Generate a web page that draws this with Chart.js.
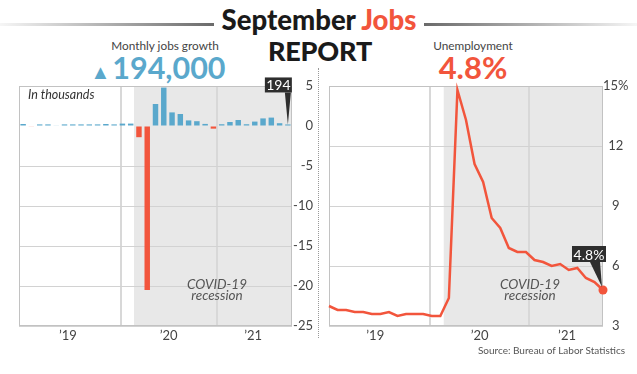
<!DOCTYPE html>
<html><head><meta charset="utf-8">
<script src="https://cdn.jsdelivr.net/npm/chart.js@4/dist/chart.umd.min.js"></script>
<style>
html,body{margin:0;padding:0;background:#fff;}
body{width:637px;height:374px;position:relative;overflow:hidden;font-family:Lato,"Open Sans",sans-serif;}
.t{position:absolute;white-space:nowrap;line-height:1;}
.c{transform:translateX(-50%);}
.rule{position:absolute;top:23px;height:3px;}
canvas{position:absolute;top:0;}
</style></head><body>
<div class="rule" style="left:0;width:214px;background:linear-gradient(to right,#f6f6f6,#6a6a6a)"></div>
<div class="rule" style="left:424px;width:213px;background:linear-gradient(to right,#6a6a6a,#f6f6f6)"></div>
<div class="t c" style="left:319px;top:6px;font-size:27.5px;font-weight:900;color:#1a1a1a">September <span style="color:#f2553c">Jobs</span></div>
<div class="t c" style="left:320px;top:37px;font-size:27px;font-weight:900;letter-spacing:-0.2px;color:#1a1a1a">REPORT</div>
<div class="t c" style="left:165px;top:40px;font-size:11.8px;color:#444">Monthly jobs growth</div>
<div class="t c" style="left:158px;top:52px;font-size:30.5px;font-weight:700;color:#5aa8cc"><span style="font-size:20px;margin-right:2px">▲</span>194,000</div>
<div class="t c" style="left:473px;top:40px;font-size:11.8px;color:#444">Unemployment</div>
<div class="t c" style="left:473px;top:52px;font-size:31px;font-weight:700;color:#f2553c">4.8%</div>
<div style="position:absolute;left:318px;top:68px;height:270px;border-left:1px dotted #999"></div>
<canvas id="jobs" width="320" height="374" style="left:0"></canvas>
<canvas id="unemp" width="317" height="374" style="left:320px"></canvas>
<div class="t" style="left:28px;top:89px;font-size:12.5px;font-style:italic;color:#333">In thousands</div>
<div class="t c" style="left:217px;top:278px;font-size:13.5px;font-style:italic;color:#555">COVID-19</div>
<div class="t c" style="left:217px;top:289px;font-size:13.5px;font-style:italic;color:#555">recession</div>
<div class="t c" style="left:530px;top:278px;font-size:13.5px;font-style:italic;color:#555">COVID-19</div>
<div class="t c" style="left:530px;top:289px;font-size:13.5px;font-style:italic;color:#555">recession</div>
<div class="t" style="right:12px;top:345px;font-size:10px;color:#555">Source: Bureau of Labor Statistics</div>
<script>
// ---- data ----
const months = ["Jan 2019","Feb 2019","Mar 2019","Apr 2019","May 2019","Jun 2019","Jul 2019","Aug 2019","Sep 2019","Oct 2019","Nov 2019","Dec 2019",
  "Jan 2020","Feb 2020","Mar 2020","Apr 2020","May 2020","Jun 2020","Jul 2020","Aug 2020","Sep 2020","Oct 2020","Nov 2020","Dec 2020",
  "Jan 2021","Feb 2021","Mar 2021","Apr 2021","May 2021","Jun 2021","Jul 2021","Aug 2021","Sep 2021"];
const jobsChange = [0.25,-0.05,0.2,0.2,0.05,0.2,0.2,0.2,0.2,0.2,0.25,0.2,
  0.3,0.3,-1.4,-20.5,2.75,4.8,1.7,1.5,0.7,0.6,0.26,-0.33,
  0.22,0.5,0.75,0.22,0.55,0.95,1.05,0.35,0.194];
const unemploymentRate = [4.0,3.8,3.8,3.7,3.7,3.6,3.6,3.7,3.5,3.6,3.6,3.6,
  3.5,3.5,4.4,14.8,13.3,11.1,10.2,8.4,7.9,6.9,6.7,6.7,
  6.3,6.2,6.0,6.1,5.8,5.9,5.4,5.2,4.8];
const yearTickLabels = ["’19","’20","’21"];
const yearTickAt = [5.4, 17.6, 27.8];      // month-index positions of year labels
const yearBoundaryAt = [11.8, 23.4];       // month-index positions of year grid lines
const recessionStartAt = 13.4;             // month-index where shading begins
const jobsCallout = "194";
const rateCallout = "4.8%";

// ---- styles ----
const BLUE = '#5aa8cc', RED = '#f2553c', SHADE = '#e8e8e8', GRID = '#d2d2d2', BOX = '#c2c2c2', DARK = '#2e2e2e';
const tickFont = {family:'Lato', size:13};

const framePlugin = {
  id:'frame',
  beforeDraw(chart){
    const {ctx, chartArea:a, scales:{x}} = chart;
    const x0 = x.getPixelForValue(recessionStartAt);
    ctx.save(); ctx.fillStyle = SHADE;
    ctx.fillRect(x0, a.top, a.right - x0, a.bottom - a.top);
    ctx.restore();
  },
  beforeDatasetsDraw(chart){
    const {ctx, chartArea:a} = chart;
    ctx.save(); ctx.strokeStyle = BOX; ctx.lineWidth = 1;
    ctx.strokeRect(Math.round(a.left)+0.5, Math.round(a.top)+0.5, Math.round(a.right-a.left)-1, Math.round(a.bottom-a.top)-1);
    ctx.restore();
  }
};

function callout(text, boxW, boxH, dxRight, gapY, tri){
  return {
    id:'callout',
    afterDatasetsDraw(chart){
      const {ctx} = chart;
      const meta = chart.getDatasetMeta(0);
      const el = meta.data[meta.data.length-1];
      const px = el.x, py = el.y;
      const right = px + dxRight, bottom = py - gapY;
      ctx.save();
      ctx.fillStyle = DARK;
      ctx.fillRect(right - boxW, bottom - boxH, boxW, boxH);
      ctx.beginPath();
      ctx.moveTo(px + tri[0], bottom); ctx.lineTo(px + tri[1], bottom); ctx.lineTo(px + tri[2], py + tri[3]);
      ctx.closePath(); ctx.fill();
      ctx.fillStyle = '#fff'; ctx.font = '14px Lato'; ctx.textAlign = 'center'; ctx.textBaseline = 'middle';
      ctx.fillText(text, right - boxW/2, bottom - boxH/2 + 1);
      ctx.restore();
    }
  };
}

function xAxes(min, max){
  return {
    x:{type:'linear', min, max, position:'bottom', offset:false,
      afterBuildTicks:s=>{s.ticks = yearTickAt.map(v=>({value:v}));},
      ticks:{callback:(v,i)=>yearTickLabels[i], font:tickFont, color:'#444', padding:2, autoSkip:false, maxRotation:0},
      grid:{display:false, drawTicks:false, offset:false}, border:{display:false},
      afterFit:s=>{s.height = 20;}},
    xg:{type:'linear', min, max, position:'bottom', offset:false,
      afterBuildTicks:s=>{s.ticks = yearBoundaryAt.map(v=>({value:v}));},
      ticks:{display:false}, grid:{color:'#d8d8d8', lineWidth:2, drawTicks:false, offset:false}, border:{display:false},
      afterFit:s=>{s.height = 0;}}
  };
}

new Chart(document.getElementById('jobs'), {
  type:'bar',
  data:{datasets:[{
    data: jobsChange.map((v,i)=>({x:i, y:v})),
    backgroundColor: jobsChange.map(v=> v < 0 ? RED : BLUE),
    barPercentage:0.66, categoryPercentage:1
  }]},
  options:{
    responsive:false, animation:false, events:[],
    layout:{padding:{left:19, top:86, right:7, bottom:28}},
    plugins:{legend:{display:false}, tooltip:{enabled:false}},
    scales:Object.assign(xAxes(-0.5, 32.5), {
      y:{position:'right', min:-25, max:5,
        ticks:{stepSize:5, font:tickFont, color:'#444', padding:0, crossAlign:'far'},
        grid:{color:c=> c.tick && c.tick.value === 0 ? 'rgba(0,0,0,0)' : GRID, drawTicks:false},
        border:{display:false},
        afterFit:s=>{s.width = 21;}}
    })
  },
  plugins:[framePlugin, callout(jobsCallout, 27, 15, 4, 32, [-3, 3, 0, 0])]
});

new Chart(document.getElementById('unemp'), {
  type:'line',
  data:{datasets:[{
    data: unemploymentRate.map((v,i)=>({x:i, y:v})),
    borderColor: RED, borderWidth:2.5, tension:0, clip:8,
    pointRadius: unemploymentRate.map((v,i)=> i === unemploymentRate.length-1 ? 4.5 : 0),
    pointBackgroundColor: RED, pointBorderWidth:0
  }]},
  options:{
    responsive:false, animation:false, events:[],
    layout:{padding:{left:9, top:86, right:0, bottom:28}},
    plugins:{legend:{display:false}, tooltip:{enabled:false}},
    scales:Object.assign(xAxes(0, 32), {
      y:{position:'right', min:3, max:15,
        ticks:{stepSize:3, font:tickFont, color:'#444', padding:0, crossAlign:'center',
          callback:v=> v === 15 ? '15%' : String(v)},
        grid:{color:GRID, drawTicks:false},
        border:{display:false},
        afterFit:s=>{s.width = 34;}}
    })
  },
  plugins:[framePlugin, callout(rateCallout, 34, 16, 3, 28, [-13, -3, -1, -3])]
});
</script>
</body></html>
